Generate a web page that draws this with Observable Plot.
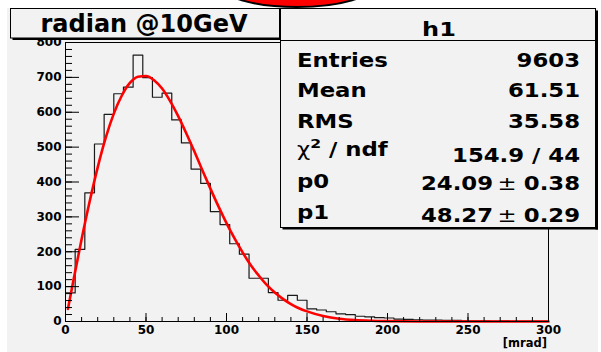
<!DOCTYPE html>
<html><head><meta charset="utf-8">
<script src="https://cdn.jsdelivr.net/npm/d3@7"></script>
<script src="https://cdn.jsdelivr.net/npm/@observablehq/plot@0.6"></script>
<style>
html,body{margin:0;padding:0;background:#fff;}
svg{display:block;}
</style></head><body><div id="chart"></div>
<script>
// ---- data ----
const binWidth = 6; // mrad
const counts = [82,207,369,509,594,653,672,764,699,643,655,578,512,437,396,315,278,223,193,124,124,83,61,75,61,36,33,28,22,20,15,13,11,10,7,6,5,4,4,3,3,2,2,2,1,2,1,1,1,1];
const fitX = [1.5,5,10,15,20,25,30,35,40,45,50,55,60,65,70,75,80,85,90,95,100,105,110,115,120,125,130,135,140,145,150,160,170,180,190,200,220,240,260,280,300];
const fitY = [36,120,236,344,442,527,596,648,684,702,704,692,668,632,589,540,488,434,381,330,282,238,198,162,132,105,83,65,50,38,29,16,8,4,2,1,0.1,0,0,0,0];
const xMajorTicks = [0,50,100,150,200,250,300];
const xMinorTicks = [0,10,20,30,40,50,60,70,80,90,100,110,120,130,140,150,160,170,180,190,200,210,220,230,240,250,260,270,280,290,300];
const yMajorTicks = [0,100,200,300,400,500,600,700,800];
const yMinorTicks = [0,20,40,60,80,100,120,140,160,180,200,220,240,260,280,300,320,340,360,380,400,420,440,460,480,500,520,540,560,580,600,620,640,660,680,700,720,740,760,780,800];
const titleText = "radian @10GeV";
const xUnit = "[mrad]";
const statsName = "h1";
const statsLabels = ["Entries","Mean","RMS"];
const statsValues = ["9603","61.51","35.58"];
const chi2Value = "154.9 / 44";
const paramNames = ["p0","p1"];
const paramValues = ["24.09","48.27"];
const paramErrors = ["0.38","0.29"];

// ---- build tables ----
const histPts = counts.map((c, i) => ({x: i * binWidth, y: c}));
histPts.push({x: counts.length * binWidth, y: counts[counts.length - 1]});
const fitPts = fitX.map((x, i) => ({x, y: fitY[i]}));

const blank = () => "";
const svg = Plot.plot({
  width: 601, height: 352,
  marginLeft: 65, marginRight: 53, marginTop: 42, marginBottom: 31,
  style: {background: "transparent", fontFamily: "DejaVu Sans", fontSize: "12px", fontWeight: "bold", color: "#000"},
  x: {domain: [0, 300]},
  y: {domain: [0, 800]},
  marks: [
    Plot.line(histPts, {x: "x", y: "y", curve: "step-after", stroke: "#1a1a1a", strokeWidth: 1.2}),
    Plot.line(fitPts, {x: "x", y: "y", curve: "monotone-x", stroke: "#ff0000", strokeWidth: 2.6}),
    Plot.frame({stroke: "#000", strokeWidth: 1}),
    Plot.axisY(yMinorTicks, {tickSize: -7, tickFormat: blank, label: null}),
    Plot.axisY(yMajorTicks, {tickSize: -14, tickFormat: blank, label: null}),
    Plot.axisY(yMajorTicks, {tickSize: 0, tickPadding: 4, label: null, fill: "#000"}),
    Plot.axisX(xMinorTicks, {tickSize: -4, tickFormat: blank, label: null}),
    Plot.axisX(xMajorTicks, {tickSize: -8, tickFormat: blank, label: null}),
    Plot.axisX(xMajorTicks, {tickSize: 0, tickPadding: 4, label: null, fill: "#000"})
  ]
});
document.getElementById("chart").appendChild(svg);

// ---- pad background, title box, stats box ----
const S = d3.select(svg);
S.insert("rect", ":first-child").attr("x", 7).attr("y", 8).attr("width", 591).attr("height", 344).attr("fill", "#f2f2f2");

const g = S.append("g").attr("font-family", "DejaVu Sans").attr("font-weight", "bold").attr("fill", "#000").attr("text-anchor", "start");

// title box
g.append("rect").attr("x", 10.5).attr("y", 8.5).attr("width", 269).attr("height", 29.5).attr("fill", "#f2f2f2").attr("stroke", "#000").attr("stroke-width", 1);
g.append("rect").attr("x", 279.5).attr("y", 10.5).attr("width", 2.5).attr("height", 29.5).attr("fill", "#000");
g.append("rect").attr("x", 12.5).attr("y", 38).attr("width", 269.5).attr("height", 2).attr("fill", "#000");
g.append("text").attr("x", 144).attr("y", 32).attr("text-anchor", "middle").attr("font-size", 24).text(titleText);

// stats box
g.append("rect").attr("x", 280.5).attr("y", 8.5).attr("width", 315).attr("height", 219).attr("fill", "#f2f2f2").attr("stroke", "#000").attr("stroke-width", 1);
g.append("rect").attr("x", 595.5).attr("y", 10.5).attr("width", 2.5).attr("height", 219).attr("fill", "#000");
g.append("rect").attr("x", 282.5).attr("y", 227.5).attr("width", 315.5).attr("height", 2).attr("fill", "#000");
g.append("line").attr("x1", 280.5).attr("x2", 595.5).attr("y1", 40.5).attr("y2", 40.5).attr("stroke", "#000");

const SX = 1.2;
function stxt(x, y, anchor, size, str, weight) {
  return g.append("text")
    .attr("transform", `translate(${x},${y}) scale(${SX},1)`)
    .attr("text-anchor", anchor).attr("font-size", size)
    .attr("font-weight", weight || "bold").text(str);
}
stxt(439, 36, "middle", 20, statsName);
const rowY = [66.5, 96.5, 128];
statsLabels.forEach((s, i) => stxt(297, rowY[i], "start", 19, s));
statsValues.forEach((s, i) => stxt(580, rowY[i], "end", 19, s));

// chi2 row
const chi = g.append("text").attr("transform", `translate(297,156) scale(${SX},1)`).attr("text-anchor", "start").attr("font-size", 19);
chi.append("tspan").attr("font-weight", "normal").text("χ");
chi.append("tspan").attr("font-size", 13).attr("dy", -8).text("2");
chi.append("tspan").attr("dy", 8).text(" / ndf");
stxt(580, 161.5, "end", 19, chi2Value);

// params
const pLabY = [187.5, 219], pValY = [190, 221.5];
paramNames.forEach((s, i) => {
  stxt(297, pLabY[i], "start", 19, s);
  stxt(493, pValY[i], "end", 19, paramValues[i]);
  stxt(507, pValY[i], "middle", 19, "±", "normal");
  stxt(580, pValY[i], "end", 19, paramErrors[i]);
});

// axis unit
g.append("text").attr("x", 547).attr("y", 347).attr("text-anchor", "end").attr("font-size", 11.5).text(xUnit);

// red ellipse at the top
g.append("ellipse").attr("cx", 297).attr("cy", -16).attr("rx", 78).attr("ry", 23).attr("fill", "#ff0000").attr("stroke", "#000").attr("stroke-width", 2);
</script>
</body></html>
